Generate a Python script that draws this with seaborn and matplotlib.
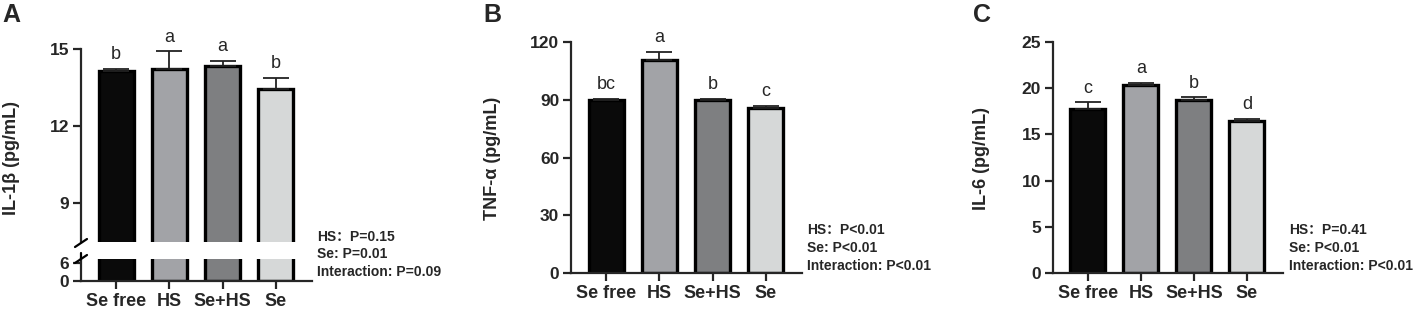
import numpy as np
import matplotlib
matplotlib.use("Agg")
import matplotlib.pyplot as plt
from matplotlib.lines import Line2D
import seaborn as sns

groups = ["Se free", "HS", "Se+HS", "Se"]
colors = ["#0a0a0a", "#a2a3a7", "#7e7f81", "#d6d8d8"]

il1b = [14.14, 14.21, 14.35, 13.44]
il1b_err = [0.08, 0.70, 0.20, 0.43]
il1b_sig = ["b", "a", "a", "b"]

tnfa = [89.7, 110.8, 90.0, 85.9]
tnfa_err = [0.8, 4.0, 0.4, 1.0]
tnfa_sig = ["bc", "a", "b", "c"]

il6 = [17.8, 20.3, 18.7, 16.4]
il6_err = [0.7, 0.3, 0.3, 0.3]
il6_sig = ["c", "a", "b", "d"]

p_il1b = ["HS：P=0.15", "Se: P=0.01", "Interaction: P=0.09"]
p_tnfa = ["HS：P<0.01", "Se: P<0.01", "Interaction: P<0.01"]
p_il6 = ["HS：P=0.41", "Se: P<0.01", "Interaction: P<0.01"]

sns.set_style("ticks")
plt.rcParams["font.family"] = ["Liberation Sans", "Noto Sans CJK SC", "DejaVu Sans"]
plt.rcParams["font.weight"] = "bold"

W, H = 1414, 310
fig = plt.figure(figsize=(W / 100, H / 100), dpi=100)
pal = dict(zip(groups, colors))


def box(left, right, top, bottom):
    return [left / W, 1 - bottom / H, (right - left) / W, (bottom - top) / H]


def bars(ax, vals, errs, sig=None):
    sns.barplot(x=groups, y=vals, hue=groups, palette=pal, order=groups,
                legend=False, width=0.66, edgecolor="black", linewidth=2.4,
                saturation=1, ax=ax)
    ax.errorbar(range(4), vals, yerr=[np.zeros(4), errs], fmt="none",
                ecolor="#222222", elinewidth=1.3, capsize=9.5, capthick=1.3)
    if sig is not None:
        for i, (v, e, s) in enumerate(zip(vals, errs, sig)):
            ax.annotate(s, (i, v + e), xytext=(0, 4), textcoords="offset points",
                        ha="center", va="bottom", fontsize=13, fontweight="normal")
    ax.set_xlim(-0.66, 3.68)
    ax.set_xlabel("")
    ax.set_ylabel("")
    sns.despine(ax=ax)
    for sp in ax.spines.values():
        sp.set_linewidth(1.6)
    ax.tick_params(axis="y", width=1.6, length=5.5, labelsize=12.5, pad=3)
    ax.tick_params(axis="x", width=1.6, length=5.5, labelsize=13, pad=3)
    for t in ax.get_xticklabels() + ax.get_yticklabels():
        t.set_fontweight("bold")


# Panel A (broken axis)
axA = fig.add_axes(box(81, 312, 49, 242))
bars(axA, il1b, il1b_err, il1b_sig)
axA.set_ylim(7.48, 15)
axA.set_yticks([9, 12, 15])
axA.spines["bottom"].set_visible(False)
axA.tick_params(axis="x", bottom=False, labelbottom=False)

axA2 = fig.add_axes(box(81, 312, 259, 281))
bars(axA2, il1b, il1b_err)
axA2.set_ylim(0, 7.3)
axA2.set_yticks([0, 6])
for x0, y0, x1, y1 in [(75, 247, 87, 239), (75, 263, 87, 255)]:
    fig.add_artist(Line2D([x0 / W, x1 / W], [1 - y0 / H, 1 - y1 / H],
                          color="black", lw=1.6))
fig.add_artist(Line2D([81 / W, 81 / W], [1 - 259 / H, 1 - 253 / H],
                      color="black", lw=1.6))

# Panel B
axB = fig.add_axes(box(571, 802, 42, 273))
bars(axB, tnfa, tnfa_err, tnfa_sig)
axB.set_ylim(0, 120)
axB.set_yticks([0, 30, 60, 90, 120])

# Panel C
axC = fig.add_axes(box(1053, 1283, 42, 273))
bars(axC, il6, il6_err, il6_sig)
axC.set_ylim(0, 25)
axC.set_yticks([0, 5, 10, 15, 20, 25])

# labels
for x, lab in [(12, "IL-1β (pg/mL)"), (492, "TNF-α (pg/mL)"), (982, "IL-6 (pg/mL)")]:
    fig.text(x / W, 1 - 158 / H, lab, rotation=90, ha="center", va="center",
             fontsize=13, fontweight="bold")

for x, lab in [(11, "A"), (492, "B"), (982, "C")]:
    fig.text(x / W, 1 - 15 / H, lab, ha="center", va="center",
             fontsize=18, fontweight="bold")

for x, ys, lines in [(317, [237, 254, 272], p_il1b),
                     (807, [230, 248, 266], p_tnfa),
                     (1289, [230, 248, 266], p_il6)]:
    for y, s in zip(ys, lines):
        fig.text(x / W, 1 - y / H, s, ha="left", va="center",
                 fontsize=10, fontweight="bold")

fig.savefig("out.png", dpi=100)
